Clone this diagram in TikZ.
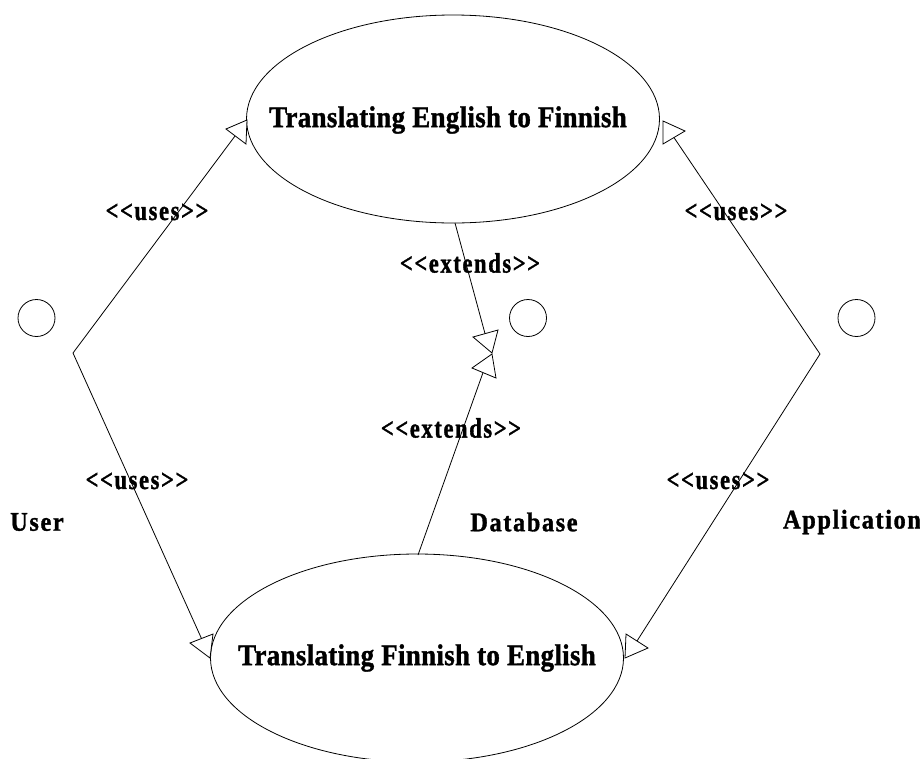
\documentclass[tikz,border=0pt]{standalone}
\usepackage{fontspec}
\usetikzlibrary{shapes.geometric}
\setmainfont{Liberation Serif}
\newfontfamily\casefont{Liberation Serif}[FakeStretch=0.9,LetterSpace=1,FakeBold=1.2]
\newfontfamily\tagfont{Liberation Serif}[FakeStretch=0.8,LetterSpace=6,FakeBold=1.2]
\newfontfamily\actorfont{Liberation Serif}[FakeStretch=0.9,LetterSpace=6,FakeBold=1.2]

\tikzset{
  usecase/.style={draw, ellipse, line width=0.8pt, inner sep=0pt,
                  minimum width=413pt, minimum height=208pt},
  casetext/.style={font=\casefont\bfseries\fontsize{30}{32}\selectfont, inner sep=0pt},
  actorhead/.style={draw, circle, line width=0.8pt, minimum size=37pt, inner sep=0pt},
  actorname/.style={font=\actorfont\bfseries\fontsize{27}{29}\selectfont, inner sep=0pt},
  tag/.style={font=\tagfont\bfseries\fontsize{28}{30}\selectfont, inner sep=0pt},
  link/.style={draw, line width=0.8pt},
  headtri/.style={draw, fill=white, line width=0.8pt, line join=miter},
}

\begin{document}
\begin{tikzpicture}[x=1pt, y=-1pt]
  \useasboundingbox (0,0) rectangle (920,758);

  % use cases
  \node[usecase] (e2f) at (453,119) {};
  \node[casetext] (e2ftext) at (448,120) {Translating English to Finnish};
  \node[usecase] (f2e) at (417,658) {};
  \node[casetext] (f2etext) at (f2e.center) {Translating Finnish to English};

  % actors
  \node[actorhead] (userhead) at (36.5,318) {};
  \node[actorhead] (dbhead) at (528,318) {};
  \node[actorhead] (apphead) at (856.5,318) {};
  \node[actorname] (user) at (37,522) {User};
  \node[actorname] (db) at (524,522) {Database};
  \node[actorname] (app) at (852,522) {Application};

  % connection points
  \coordinate (userhub) at (73,353);
  \coordinate (apphub) at (820,354);
  \coordinate (ua) at (235,136);
  \coordinate (ub) at (201.5,638.5);
  \coordinate (aa) at (674,137.6);
  \coordinate (ab) at (637,641);
  \coordinate (xa) at (485,333.6);
  \coordinate (xb) at (483,372.6);
  \coordinate (xtop) at (455,223);
  \coordinate (xbot) at (418,555);

  % connectors
  \draw[link] (userhub) -- (ua);
  \draw[link] (userhub) -- (ub);
  \draw[link] (apphub) -- (aa);
  \draw[link] (apphub) -- (ab);
  \draw[link] (xtop) -- (xa);
  \draw[link] (xbot) -- (xb);

  % open triangle heads
  \draw[headtri] (226,129) -- (247,120) -- (246,144) -- cycle;
  \draw[headtri] (663,121) -- (663,144) -- (685,131) -- cycle;
  \draw[headtri] (190,643) -- (213,634) -- (210,658) -- cycle;
  \draw[headtri] (626,634) -- (648,648) -- (625,658) -- cycle;
  \draw[headtri] (473,337) -- (498,330) -- (492,353) -- cycle;
  \draw[headtri] (472,368) -- (492,354) -- (496,378) -- cycle;

  % stereotype labels
  \node[tag] (t1) at (157,212) {<<uses>>};
  \node[tag] (t2) at (736,212) {<<uses>>};
  \node[tag] (t3) at (137,481) {<<uses>>};
  \node[tag] (t4) at (718,481) {<<uses>>};
  \node[tag] (t5) at (470,263) {<<extends>>};
  \node[tag] (t6) at (451,428) {<<extends>>};
\end{tikzpicture}
\end{document}
